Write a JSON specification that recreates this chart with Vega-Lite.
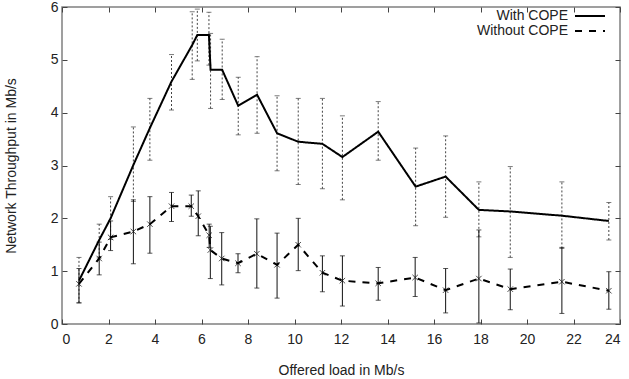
{
  "$schema": "https://vega.github.io/schema/vega-lite/v6.json",
  "width": 558,
  "height": 317,
  "autosize": {"type": "none"},
  "padding": {"left": 62, "top": 7, "right": 9, "bottom": 55},
  "background": "white",
  "config": {
    "font": "Liberation Sans",
    "view": {"stroke": "#808080", "strokeWidth": 1.5},
    "axis": {
      "domain": false,
      "grid": false,
      "tickSize": -5,
      "tickColor": "#444444",
      "tickWidth": 1,
      "labelFont": "Liberation Sans",
      "labelFontSize": 14,
      "labelColor": "#222222",
      "titleFont": "Liberation Sans",
      "titleFontSize": 14,
      "titleFontWeight": "normal",
      "titleColor": "#222222"
    }
  },
  "datasets": {
    "d": [
      {"series": "With COPE", "load": 0.73, "tput": 0.82, "lo": 0.40, "hi": 1.26},
      {"series": "With COPE", "load": 1.60, "tput": 1.59, "lo": 1.25, "hi": 1.89},
      {"series": "With COPE", "load": 2.09, "tput": 2.00, "lo": 1.60, "hi": 2.41},
      {"series": "With COPE", "load": 3.07, "tput": 3.01, "lo": 2.32, "hi": 3.73},
      {"series": "With COPE", "load": 3.78, "tput": 3.71, "lo": 3.10, "hi": 4.27},
      {"series": "With COPE", "load": 4.71, "tput": 4.59, "lo": 4.05, "hi": 5.10},
      {"series": "With COPE", "load": 5.60, "tput": 5.28, "lo": 4.63, "hi": 5.91},
      {"series": "With COPE", "load": 5.82, "tput": 5.47, "lo": 4.98, "hi": 5.96},
      {"series": "With COPE", "load": 6.32, "tput": 5.47, "lo": 4.90, "hi": 5.90},
      {"series": "With COPE", "load": 6.39, "tput": 4.81, "lo": 4.08, "hi": 5.50},
      {"series": "With COPE", "load": 6.89, "tput": 4.81, "lo": 4.25, "hi": 5.39},
      {"series": "With COPE", "load": 7.58, "tput": 4.13, "lo": 3.58, "hi": 4.67},
      {"series": "With COPE", "load": 8.39, "tput": 4.34, "lo": 3.61, "hi": 5.06},
      {"series": "With COPE", "load": 9.25, "tput": 3.61, "lo": 2.90, "hi": 4.32},
      {"series": "With COPE", "load": 10.16, "tput": 3.45, "lo": 2.64, "hi": 4.27},
      {"series": "With COPE", "load": 11.2, "tput": 3.41, "lo": 2.56, "hi": 4.27},
      {"series": "With COPE", "load": 12.06, "tput": 3.16, "lo": 2.35, "hi": 3.94},
      {"series": "With COPE", "load": 13.6, "tput": 3.64, "lo": 3.10, "hi": 4.21},
      {"series": "With COPE", "load": 15.21, "tput": 2.60, "lo": 1.86, "hi": 3.33},
      {"series": "With COPE", "load": 16.5, "tput": 2.79, "lo": 2.02, "hi": 3.56},
      {"series": "With COPE", "load": 17.93, "tput": 2.16, "lo": 1.65, "hi": 2.69},
      {"series": "With COPE", "load": 19.28, "tput": 2.13, "lo": 1.26, "hi": 2.98},
      {"series": "With COPE", "load": 21.5, "tput": 2.05, "lo": 1.43, "hi": 2.69},
      {"series": "With COPE", "load": 23.52, "tput": 1.95, "lo": 1.59, "hi": 2.30},
      {"series": "Without COPE", "load": 0.73, "tput": 0.76, "lo": 0.40, "hi": 1.05},
      {"series": "Without COPE", "load": 1.60, "tput": 1.24, "lo": 0.93, "hi": 1.55},
      {"series": "Without COPE", "load": 2.09, "tput": 1.64, "lo": 1.39, "hi": 1.95},
      {"series": "Without COPE", "load": 3.07, "tput": 1.75, "lo": 1.14, "hi": 2.35},
      {"series": "Without COPE", "load": 3.78, "tput": 1.89, "lo": 1.34, "hi": 2.41},
      {"series": "Without COPE", "load": 4.71, "tput": 2.23, "lo": 1.94, "hi": 2.49},
      {"series": "Without COPE", "load": 5.56, "tput": 2.23, "lo": 2.04, "hi": 2.44},
      {"series": "Without COPE", "load": 5.86, "tput": 2.04, "lo": 1.67, "hi": 2.52},
      {"series": "Without COPE", "load": 6.33, "tput": 1.68, "lo": 1.45, "hi": 1.89},
      {"series": "Without COPE", "load": 6.38, "tput": 1.40, "lo": 0.86, "hi": 1.85},
      {"series": "Without COPE", "load": 6.87, "tput": 1.24, "lo": 0.74, "hi": 1.73},
      {"series": "Without COPE", "load": 7.57, "tput": 1.15, "lo": 0.97, "hi": 1.33},
      {"series": "Without COPE", "load": 8.38, "tput": 1.33, "lo": 0.68, "hi": 1.99},
      {"series": "Without COPE", "load": 9.25, "tput": 1.12, "lo": 0.49, "hi": 1.72},
      {"series": "Without COPE", "load": 10.16, "tput": 1.50, "lo": 1.01, "hi": 2.00},
      {"series": "Without COPE", "load": 11.2, "tput": 0.97, "lo": 0.61, "hi": 1.29},
      {"series": "Without COPE", "load": 12.06, "tput": 0.82, "lo": 0.34, "hi": 1.29},
      {"series": "Without COPE", "load": 13.6, "tput": 0.77, "lo": 0.45, "hi": 1.07},
      {"series": "Without COPE", "load": 15.19, "tput": 0.88, "lo": 0.52, "hi": 1.26},
      {"series": "Without COPE", "load": 16.5, "tput": 0.64, "lo": 0.21, "hi": 1.05},
      {"series": "Without COPE", "load": 17.93, "tput": 0.86, "lo": 0.02, "hi": 1.78},
      {"series": "Without COPE", "load": 19.28, "tput": 0.66, "lo": 0.27, "hi": 1.04},
      {"series": "Without COPE", "load": 21.5, "tput": 0.80, "lo": 0.20, "hi": 1.45},
      {"series": "Without COPE", "load": 23.52, "tput": 0.63, "lo": 0.28, "hi": 0.99}
    ]
  },
  "data": {"name": "d"},
  "layer": [
    {
      "transform": [{"filter": "datum.series === 'With COPE'"}],
      "mark": {"type": "errorbar", "ticks": {"size": 5, "color": "#444444", "strokeWidth": 1}, "rule": {"strokeDash": [2, 2], "color": "#444444", "strokeWidth": 1}},
      "encoding": {
        "x": {"field": "load", "type": "quantitative", "scale": {"domain": [0, 24], "nice": false, "zero": true}, "axis": null},
        "y": {"field": "lo", "type": "quantitative", "scale": {"domain": [0, 6], "nice": false}, "axis": null},
        "y2": {"field": "hi"}
      }
    },
    {
      "transform": [{"filter": "datum.series === 'Without COPE'"}],
      "mark": {"type": "errorbar", "ticks": {"size": 5, "color": "#111111", "strokeWidth": 1}, "rule": {"color": "#111111", "strokeWidth": 1}},
      "encoding": {
        "x": {"field": "load", "type": "quantitative", "scale": {"domain": [0, 24], "nice": false}, "axis": null},
        "y": {"field": "lo", "type": "quantitative", "scale": {"domain": [0, 6], "nice": false}, "axis": null},
        "y2": {"field": "hi"}
      }
    },
    {
      "mark": {"type": "line", "color": "black", "strokeWidth": 2},
      "encoding": {
        "x": {"field": "load", "type": "quantitative", "scale": {"domain": [0, 24], "nice": false},
              "axis": {"title": "Offered load in Mb/s", "values": [0,2,4,6,8,10,12,14,16,18,20,22,24], "labelPadding": 13, "titlePadding": 17}},
        "y": {"field": "tput", "type": "quantitative", "scale": {"domain": [0, 6], "nice": false},
              "axis": {"title": "Network Throughput in Mb/s", "values": [0,1,2,3,4,5,6], "labelPadding": 9, "titlePadding": 32}},
        "strokeDash": {"field": "series", "type": "nominal",
          "scale": {"domain": ["With COPE", "Without COPE"], "range": [[1, 0], [7, 7]]},
          "legend": {"title": null, "orient": "none", "legendX": 521, "legendY": 2, "padding": 0,
            "symbolType": "M-3,0H3", "symbolSize": 100, "symbolStrokeWidth": 2, "symbolStrokeColor": "black",
            "labelAlign": "right", "labelOffset": -29, "labelFontSize": 14, "labelFont": "Liberation Sans", "labelColor": "#222222",
            "rowPadding": 1}},
        "detail": {"field": "series"}
      }
    },
    {
      "transform": [{"filter": "datum.series === 'Without COPE'"}],
      "mark": {"type": "point", "shape": "M-1,-1L1,1M-1,1L1,-1", "filled": false, "color": "black", "size": 30, "strokeWidth": 1},
      "encoding": {
        "x": {"field": "load", "type": "quantitative", "scale": {"domain": [0, 24], "nice": false},
              "axis": {"orient": "top", "title": null, "labels": false, "values": [0,2,4,6,8,10,12,14,16,18,20,22,24]}},
        "y": {"field": "tput", "type": "quantitative", "scale": {"domain": [0, 6], "nice": false},
              "axis": {"orient": "right", "title": null, "labels": false, "values": [0,1,2,3,4,5,6]}}
      }
    }
  ],
  "resolve": {"axis": {"x": "independent", "y": "independent"}}
}
